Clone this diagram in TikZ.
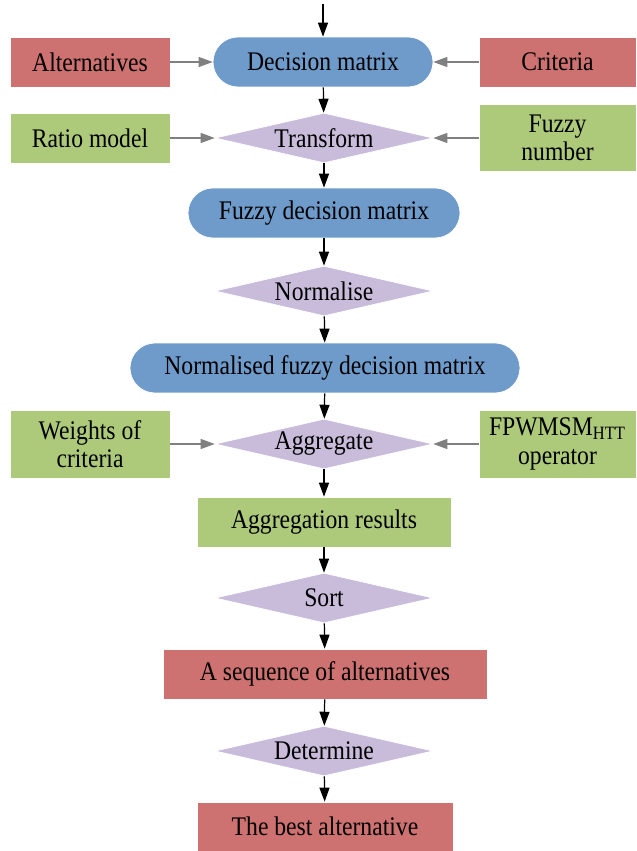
\documentclass[tikz,border=0pt]{standalone}
\usepackage{fontspec}
\setmainfont{Liberation Serif}[FakeStretch=0.88]
\usetikzlibrary{arrows.meta,shapes.geometric}
\definecolor{redbox}{HTML}{CD7270}
\definecolor{bluebox}{HTML}{6F9BCB}
\definecolor{greenbox}{HTML}{ADC97A}
\definecolor{purplebox}{HTML}{C8BCDA}
\tikzset{
    txt/.style={font=\fontsize{15.3pt}{16pt}\selectfont, align=center, inner sep=0pt, text=black},
    redrect/.style={txt, rectangle, fill=redbox, draw=white, line width=0.4pt},
    greenrect/.style={txt, rectangle, fill=greenbox, draw=white, line width=0.4pt},
    pill/.style={txt, rectangle, rounded corners=0.5cm, fill=bluebox, draw=white, line width=0.4pt, minimum height=1cm},
    decide/.style={txt, diamond, aspect=4.36, fill=purplebox, draw=white, line width=0.4pt, minimum width=4.36cm, minimum height=1cm},
    edge/.style={-{Triangle[length=0.28cm,width=0.2cm]}, line width=0.7pt, black},
    sideedge/.style={-{Triangle[length=0.28cm,width=0.2cm]}, line width=0.7pt, gray}
}

\begin{document}
\begin{tikzpicture}[x=0.02cm, y=-0.02cm]
\useasboundingbox (0,0) rectangle (636,851);

\coordinate (top) at (323,4);
\node[pill, minimum width=4.4cm] (dm) at (323,62) {Decision matrix};
\node[redrect, minimum width=3.2cm, minimum height=1cm] (alt) at (90,62) {Alternatives};
\node[redrect, minimum width=3.14cm, minimum height=1cm] (crit) at (557.5,62) {Criteria};

\node[decide] (trans) at (324,138) {Transform};
\node[greenrect, minimum width=3.2cm, minimum height=1cm] (ratio) at (90,138) {Ratio model};
\node[greenrect, minimum width=3.14cm, minimum height=1.34cm] (fnum) at (557.5,138) {Fuzzy\\number};

\node[pill, minimum width=5.44cm] (fdm) at (324,213) {Fuzzy decision matrix};
\node[decide] (norm) at (324,291) {Normalise};
\node[pill, minimum width=7.8cm] (nfdm) at (325,368) {Normalised fuzzy decision matrix};

\node[decide] (agg) at (324,444) {Aggregate};
\node[greenrect, minimum width=3.2cm, minimum height=1.36cm] (wts) at (90,444) {Weights of\\criteria};
\node[greenrect, minimum width=3.14cm, minimum height=1.36cm] (op) at (557.5,444) {FPWMSM\textsubscript{HTT}\\operator};

\node[greenrect, minimum width=5.08cm, minimum height=1cm] (res) at (324,522) {Aggregation results};
\node[decide] (sort) at (324,598) {Sort};
\node[redrect, minimum width=6.48cm, minimum height=1cm] (seq) at (325,674) {A sequence of alternatives};
\node[decide] (det) at (324,751) {Determine};
\node[redrect, minimum width=5.12cm, minimum height=0.98cm] (best) at (325,826.5) {The best alternative};

\draw[edge] (top) -- (dm);
\draw[edge] (dm) -- (trans);
\draw[edge] (trans) -- (fdm);
\draw[edge] (fdm) -- (norm);
\draw[edge] (norm) -- (nfdm);
\draw[edge] (nfdm) -- (agg);
\draw[edge] (agg) -- (res);
\draw[edge] (res) -- (sort);
\draw[edge] (sort) -- (seq);
\draw[edge] (seq) -- (det);
\draw[edge] (det) -- (best);

\draw[sideedge] (alt) -- (dm);
\draw[sideedge] (crit) -- (dm);
\draw[sideedge] (ratio) -- (trans);
\draw[sideedge] (fnum) -- (trans);
\draw[sideedge] (wts) -- (agg);
\draw[sideedge] (op) -- (agg);

\end{tikzpicture}
\end{document}
